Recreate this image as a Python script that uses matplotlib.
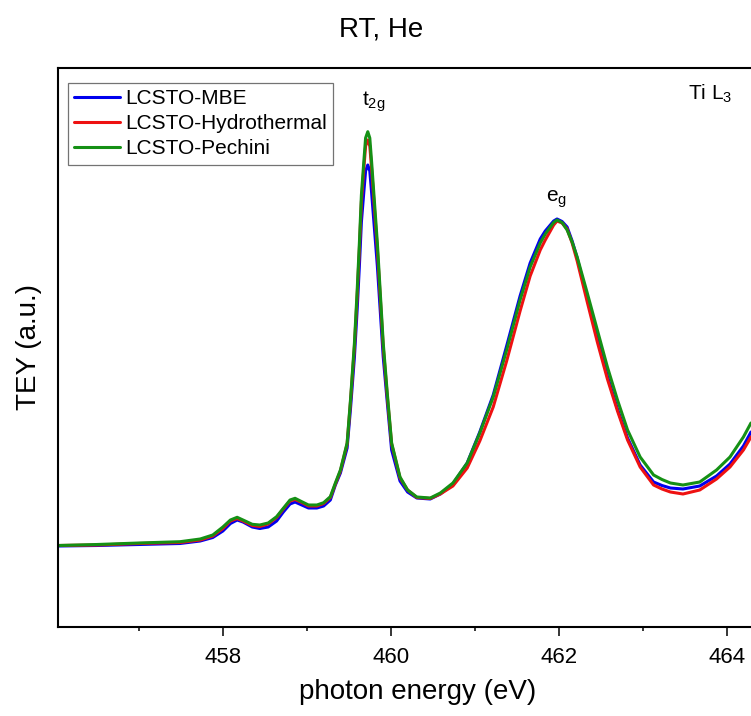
import numpy as np
import matplotlib
matplotlib.use('Agg')
import matplotlib.pyplot as plt
from matplotlib.ticker import MultipleLocator

plt.rcParams['font.family'] = ['Liberation Sans', 'DejaVu Sans']
plt.rcParams['mathtext.fontset'] = 'custom'
plt.rcParams['mathtext.rm'] = 'Liberation Sans'
plt.rcParams['mathtext.it'] = 'Liberation Sans:italic'

# photon energy grid (eV)
energy = [456.04, 456.5, 457.0, 457.49, 457.73, 457.88, 458.0, 458.09, 458.17, 458.24,
          458.35, 458.44, 458.54, 458.64, 458.72, 458.8, 458.86, 458.94, 459.02, 459.12,
          459.2, 459.28, 459.34, 459.4, 459.48, 459.52, 459.567, 459.6, 459.626, 459.65,
          459.676, 459.70, 459.726, 459.75, 459.77, 459.84, 459.91, 459.96, 460.01, 460.11,
          460.2, 460.31, 460.47, 460.59, 460.74, 460.91, 461.06, 461.22, 461.38, 461.54,
          461.66, 461.78, 461.84, 461.9, 461.94, 461.98, 462.04, 462.1, 462.16, 462.22,
          462.34, 462.46, 462.58, 462.7, 462.82, 462.97, 463.13, 463.23, 463.33, 463.48,
          463.68, 463.88, 464.04, 464.2, 464.29]

# TEY (arbitrary units)
tey_mbe = [-1, -0.5, 0.5, 1.5, 4, 7.5, 14, 21.5, 25, 23,
           18, 16.5, 18, 24, 33, 41, 43, 40, 37, 37,
           39, 45, 60, 72, 97, 136, 188, 236, 279, 323,
           350, 374, 380, 374, 354, 279, 188, 141, 95, 64,
           53, 47, 46, 51, 61, 82, 113, 150, 199, 249,
           282, 306, 314, 320, 324, 326, 323.5, 318, 304, 287,
           247, 207, 169, 136, 107, 80, 63, 59.5, 57, 56,
           59, 69, 81, 99, 113]

tey_hydro = [-0.5, 0, 1.5, 2.5, 5, 9, 16.5, 24, 26.5, 24,
             19.5, 18.5, 21, 27.5, 36, 44, 45.5, 42.5, 39, 39,
             41.5, 47.5, 61, 74, 101, 143, 198, 250, 296, 343,
             373, 399, 405, 399, 378, 296, 198, 147, 101, 67,
             55, 47.5, 46.5, 51, 59, 77, 104, 138, 184, 234,
             269, 295, 305, 314, 320, 324, 322, 316, 302, 284,
             243, 203, 166, 134, 105, 78, 60, 56, 53, 51,
             55, 66, 78, 95, 108]

tey_pechini = [-0.5, 0.5, 2, 3.3, 6, 10, 18, 25, 27.7, 25,
               20.7, 20, 22, 28.3, 36.7, 45, 46.7, 43.3, 40, 40,
               42.3, 48.3, 62, 75, 102, 145, 202, 255, 302, 350,
               380, 407, 413.3, 407, 385, 302, 202, 150, 102, 68,
               55, 48, 47, 52, 62, 82, 112, 148, 195, 245,
               278, 302, 311, 318, 322.5, 325, 322.5, 315, 303, 288,
               252, 215, 178, 145, 115, 88, 70, 65.5, 62, 60,
               63, 75, 88, 108, 122]

labels = ['LCSTO-MBE', 'LCSTO-Hydrothermal', 'LCSTO-Pechini']
colors = ['#0000ee', '#ee1111', '#159015']

W, H = 751, 716
fig = plt.figure(figsize=(W / 100, H / 100), dpi=100)
ax = fig.add_axes([58.3 / W, (H - 627) / H, 718.7 / W, 559 / H])

for y, lab, c in zip([tey_mbe, tey_hydro, tey_pechini], labels, colors):
    ax.plot(energy, y, color=c, lw=2.2, label=lab,
            solid_joinstyle='round', solid_capstyle='round')

ax.set_xlim(456.04, 464.6)
ax.set_ylim(-82, 477)
ax.set_yticks([])
ax.xaxis.set_major_locator(MultipleLocator(2))
ax.xaxis.set_minor_locator(MultipleLocator(1))
ax.tick_params(axis='x', which='major', direction='out', length=6.5, width=1.1,
               labelsize=16, pad=8)
ax.tick_params(axis='x', which='minor', direction='out', length=3.2, width=1.1)
for s in ax.spines.values():
    s.set_linewidth(1.5)

ax.set_xlabel('photon energy (eV)', fontsize=20, labelpad=8)
ax.set_ylabel('TEY (a.u.)', fontsize=20, labelpad=12)
fig.text(381 / W, 1 - 29 / H, 'RT, He', fontsize=20, ha='center', va='center')

ax.text(459.795, 439, r'$\mathregular{t_{2g}}$', fontsize=15, ha='center', va='baseline')
ax.text(461.97, 343, r'$\mathregular{e_{g}}$', fontsize=15, ha='center', va='baseline')
ax.text(463.80, 445, r'$\mathregular{Ti\ L_{3}}$', fontsize=15, ha='center', va='baseline')

leg = ax.legend(loc='upper left', bbox_to_anchor=(68 / W, 1 - 83 / H),
                bbox_transform=fig.transFigure, borderaxespad=0, fontsize=15,
                handlelength=2.2, handletextpad=0.25, labelspacing=0.29,
                borderpad=0.3, fancybox=False, framealpha=1)
leg.get_frame().set_edgecolor('0.45')
leg.get_frame().set_linewidth(0.9)
for l in leg.get_lines():
    l.set_linewidth(2.2)

fig.savefig('out.png', dpi=100)
